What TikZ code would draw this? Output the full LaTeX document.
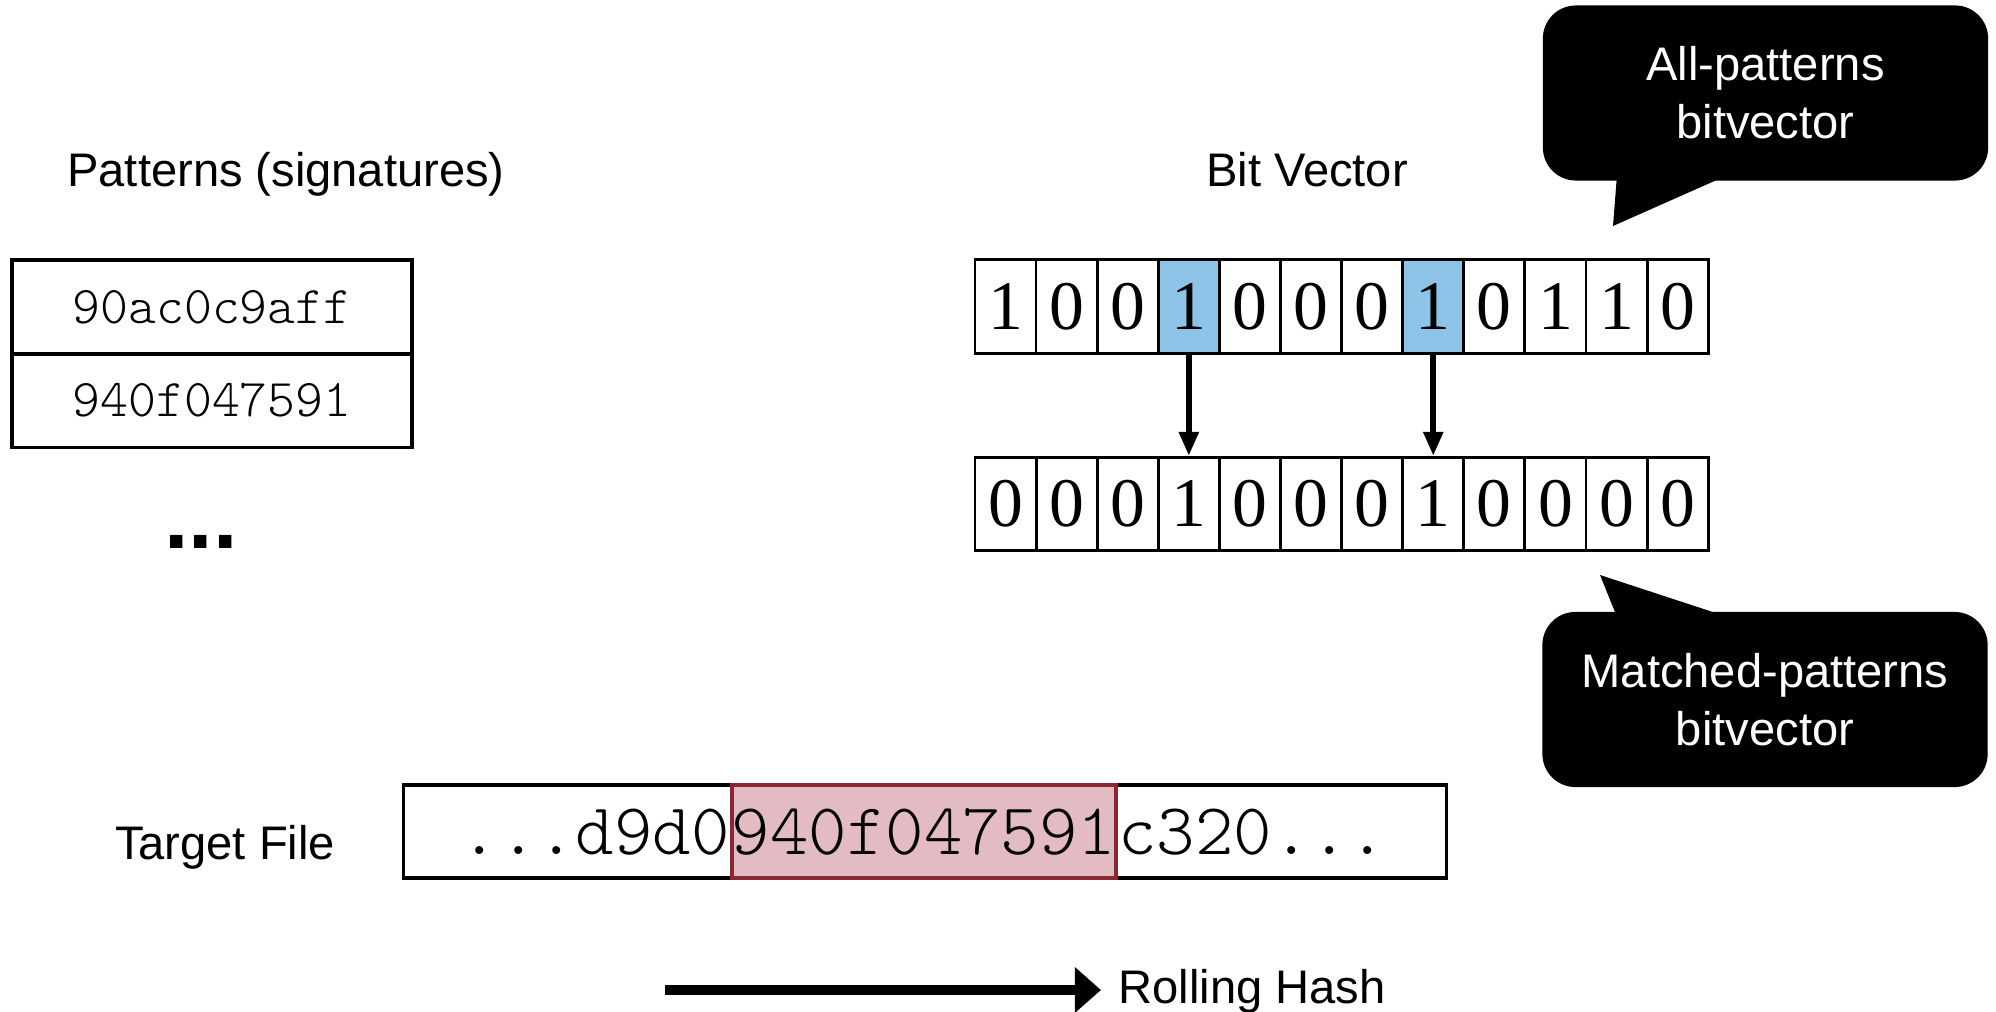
\documentclass[tikz,border=0pt]{standalone}
\usepackage{fontspec}
\setmainfont{Liberation Sans}
\newfontfamily\bitfont{Liberation Serif}
\usetikzlibrary{arrows.meta}
\definecolor{bitblue}{RGB}{141,195,230}
\definecolor{hlfill}{RGB}{226,188,194}
\definecolor{hldraw}{RGB}{140,40,52}
\begin{document}
\begin{tikzpicture}[x=0.01cm,y=-0.01cm,
  sans/.style={font=\fontsize{13.4}{16.5}\selectfont},
  codefont/.style={font=\fontsize{#1}{#1}\selectfont\ttfamily\fontseries{l}\selectfont},
  patcell/.style={draw,line width=1pt,minimum width=4cm,minimum height=0.935cm,inner sep=0pt,codefont=15.1},
  bitcell/.style={draw,line width=0.8pt,minimum width=0.611cm,minimum height=0.935cm,inner sep=0pt,
    font=\fontsize{19.8}{20}\selectfont\bitfont},
  callout/.style={fill=black,text=white,rounded corners=0.33cm,align=center,inner sep=0pt,
    minimum width=4.45cm,minimum height=1.75cm,sans},
  varrow/.style={line width=1.6pt,-{Triangle[length=0.24cm,width=0.19cm]}},
  harrow/.style={line width=2.6pt,-{Triangle[length=0.26cm,width=0.44cm]}}]
\useasboundingbox (0,0) rectangle (1996,1012);

% headings
\node[sans,anchor=base] (pathead) at (286,186) {Patterns (signatures)};
\node[sans,anchor=base] (bvhead) at (1307,186) {Bit Vector};

% signature table
\node[patcell] (p1) at (212,307) {90ac0c9aff};
\node[patcell] (p2) at (212,400.5) {940f047591};
\node[anchor=base,font=\fontsize{25}{25}\selectfont\bfseries] (pdots) at (201,548) {...};

% all-patterns bit vector and matched-patterns bit vector
\foreach \v/\c [count=\i from 0] in {1/white,0/white,0/white,1/bitblue,0/white,0/white,0/white,1/bitblue,0/white,1/white,1/white,0/white}
  \node[bitcell,fill=\c] (t\i) at (1005.55+61.1*\i,306.5) {\v};
\foreach \v [count=\i from 0] in {0,0,0,1,0,0,0,1,0,0,0,0}
  \node[bitcell] (b\i) at (1005.55+61.1*\i,504) {\v};
\draw[varrow] (t3.south) -- (b3.north);
\draw[varrow] (t7.south) -- (b7.north);

% speech callouts
\node[callout] (ca) at (1765.5,93) {All-patterns\\bitvector};
\fill (1617,175) -- (1613,226) -- (1728,175) -- cycle;
\node[callout] (cb) at (1765,699.5) {Matched-patterns\\bitvector};
\fill (1617,617) -- (1600,575) -- (1728,617) -- cycle;

% target file with the matched window
\node[sans,anchor=base] (tflabel) at (225,859) {Target File};
\node[draw,line width=0.9pt,minimum width=10.42cm,minimum height=0.93cm,inner sep=0pt] (tf) at (925,831.5) {};
\node[fill=hlfill,draw=hldraw,line width=1pt,minimum height=0.93cm,inner xsep=0pt,inner ysep=0pt,codefont=20.8] (mid) at (924,831.5) {940f047591};
\node[anchor=base east,inner sep=0pt,codefont=20.8] (pre) at (mid.base west) {...d9d0};
\node[anchor=base west,inner sep=0pt,codefont=20.8] (post) at (mid.base east) {c320...};

% rolling direction
\coordinate (rstart) at (665,990);
\coordinate (rend) at (1101,990);
\draw[harrow] (rstart) -- (rend);
\node[sans,anchor=base west,inner sep=0pt] (rh) at (1118,1003) {Rolling Hash};
\end{tikzpicture}
\end{document}
